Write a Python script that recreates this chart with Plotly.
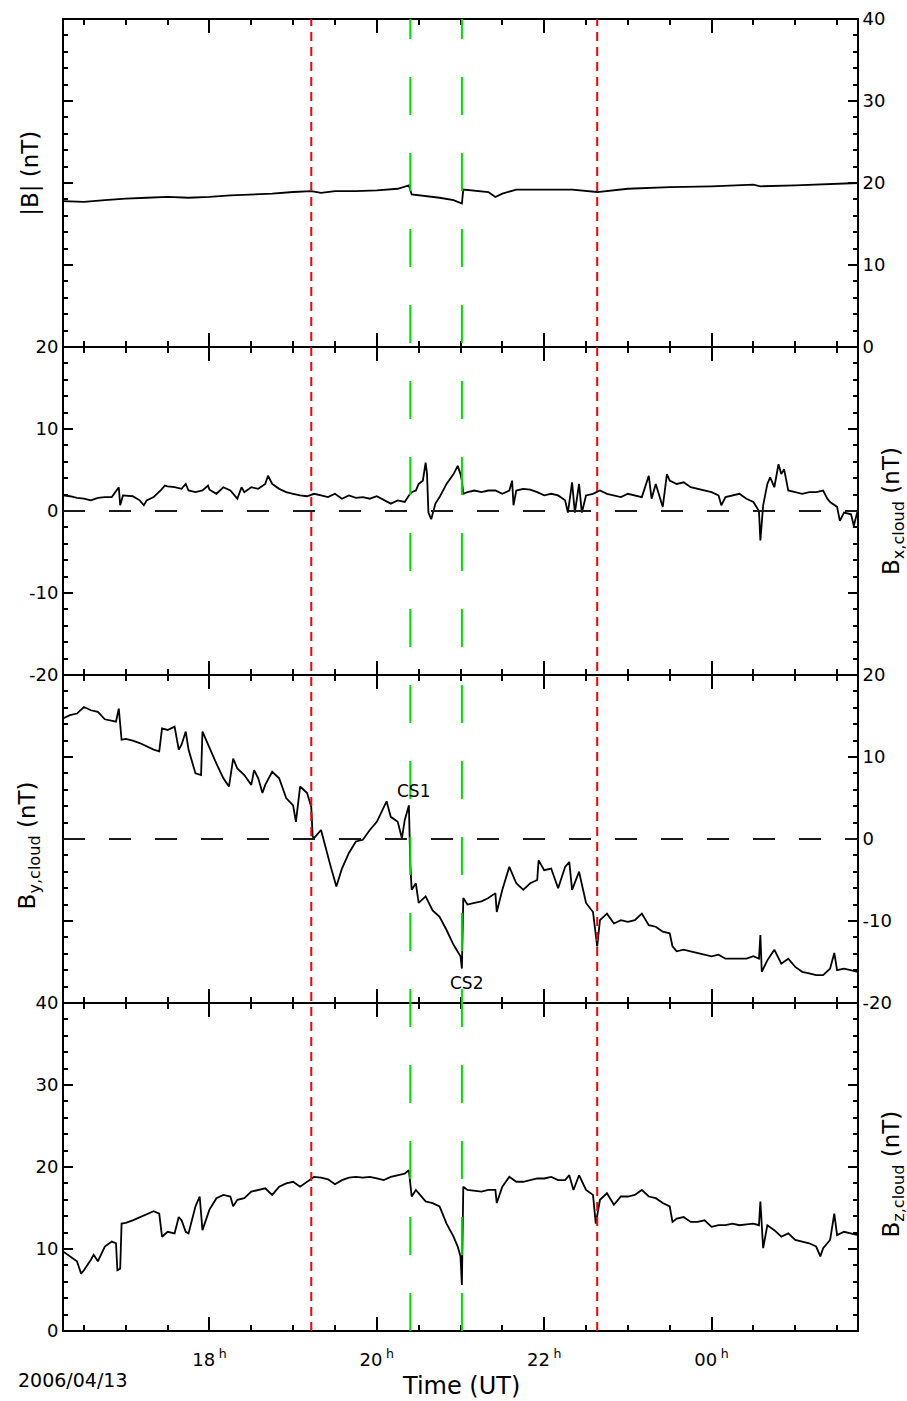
import plotly.graph_objects as go

# ---------------- data ----------------
bt_t = ["16:15","16:30","16:45","17:00","17:15","17:30","17:45","18:00","18:15","18:30","18:45","19:00","19:13","19:20","19:30","19:45","20:00","20:15","20:23","20:25","20:35","20:45","20:55","21:01","21:02","21:10","21:20","21:25","21:30","21:40","22:00","22:20","22:38","22:45","23:00","23:30","00:00","00:30","00:35","01:00","01:30","01:45"]
bt_v = [17.8,17.7,17.9,18.1,18.2,18.3,18.2,18.3,18.5,18.6,18.7,18.9,19.0,18.8,19.0,19.0,19.1,19.3,19.7,18.6,18.4,18.2,17.9,17.5,19.2,19.1,18.9,18.3,18.7,19.2,19.2,19.2,18.9,19.0,19.3,19.5,19.6,19.8,19.6,19.7,19.9,20.0]

bx_t = ["16:15","16:20","16:25","16:30","16:35","16:40","16:45","16:50","16:55","16:56","16:58","17:05","17:10","17:13","17:15","17:20","17:25","17:28","17:30","17:35","17:40","17:43","17:45","17:50","17:55","17:59","18:00","18:05","18:10","18:15","18:20","18:23","18:25","18:30","18:35","18:40","18:42","18:45","18:50","18:55","19:00","19:05","19:10","19:15","19:20","19:25","19:30","19:35","19:40","19:45","19:50","19:55","20:00","20:05","20:10","20:15","20:20","20:23","20:25","20:28","20:30","20:33","20:35","20:36","20:37","20:39","20:42","20:45","20:50","20:55","20:58","21:00","21:01","21:02","21:05","21:10","21:15","21:20","21:25","21:30","21:35","21:37","21:38","21:40","21:45","21:50","21:55","22:00","22:05","22:10","22:15","22:17","22:20","22:22","22:25","22:27","22:30","22:35","22:40","22:45","22:50","22:55","23:00","23:05","23:10","23:15","23:17","23:20","23:25","23:28","23:30","23:35","23:40","23:45","23:50","23:55","00:00","00:05","00:07","00:10","00:15","00:20","00:25","00:30","00:34","00:35","00:37","00:40","00:42","00:45","00:48","00:50","00:52","00:55","01:00","01:05","01:10","01:15","01:20","01:23","01:25","01:30","01:32","01:35","01:40","01:42","01:45"]
bx_v = [1.9,1.8,1.6,1.5,1.3,1.6,1.7,1.7,2.9,0.7,1.9,1.8,1.3,0.7,1.3,1.7,2.5,3.1,3.0,2.9,2.7,3.3,2.5,2.3,2.5,3.1,2.6,2.1,2.9,2.5,1.5,2.9,2.3,2.9,2.7,3.3,4.3,3.3,2.7,2.3,2.1,1.9,1.8,2.1,1.9,1.7,2.1,1.5,1.9,1.6,1.7,1.5,1.8,1.3,0.9,1.3,1.1,1.9,2.3,2.5,3.3,3.7,5.9,4.5,-0.2,-1.0,0.9,1.7,3.3,4.5,5.5,4.5,3.7,2.1,2.3,2.5,2.3,2.5,2.5,2.1,2.5,3.7,0.7,2.5,2.7,2.6,2.3,1.9,2.1,1.9,1.3,-0.2,3.5,-0.2,3.3,-0.2,1.9,2.1,2.5,2.1,1.9,1.7,2.1,1.9,1.7,4.3,1.5,3.3,0.5,4.5,3.7,3.3,3.5,2.9,2.7,2.5,2.3,1.9,0.7,1.7,1.9,2.1,1.5,1.1,0.0,-3.6,0.7,3.3,4.1,2.9,5.7,4.5,5.1,2.5,2.3,2.1,2.3,2.3,2.5,1.5,1.1,0.5,-1.2,-0.2,-0.4,-1.8,0.2]

by_t = ["16:15","16:20","16:25","16:30","16:35","16:40","16:45","16:50","16:53","16:55","16:57","17:00","17:05","17:10","17:15","17:20","17:24","17:26","17:30","17:35","17:38","17:40","17:43","17:45","17:50","17:54","17:55","18:00","18:05","18:10","18:14","18:17","18:20","18:25","18:30","18:32","18:35","18:38","18:40","18:45","18:50","18:55","19:00","19:02","19:05","19:10","19:13","19:14","19:15","19:20","19:23","19:27","19:31","19:35","19:40","19:45","19:50","19:55","20:00","20:07","20:10","20:15","20:18","20:20","20:23","20:24","20:25","20:28","20:30","20:35","20:40","20:45","20:50","20:55","21:00","21:01","21:02","21:05","21:10","21:15","21:20","21:25","21:26","21:30","21:35","21:40","21:45","21:50","21:55","21:56","22:00","22:05","22:10","22:15","22:18","22:20","22:25","22:30","22:35","22:38","22:40","22:45","22:50","22:55","23:00","23:05","23:10","23:15","23:20","23:25","23:30","23:32","23:35","23:40","23:45","23:50","23:55","00:00","00:05","00:10","00:15","00:20","00:25","00:30","00:34","00:35","00:36","00:40","00:45","00:50","00:55","01:00","01:05","01:10","01:15","01:20","01:25","01:28","01:30","01:35","01:40","01:45"]
by_v = [14.7,15.1,15.3,16.1,15.7,15.5,14.6,14.4,14.3,15.9,12.1,12.2,12.0,11.7,11.3,10.9,10.7,13.5,13.3,13.7,10.9,11.5,13.1,10.9,8.0,7.8,13.1,11.1,9.2,7.4,6.4,9.8,8.6,7.8,6.6,8.4,7.4,5.6,6.6,8.2,7.4,5.0,4.1,2.1,6.4,5.6,3.9,0.3,0.1,1.1,-0.9,-3.4,-5.8,-3.6,-1.7,-0.3,-0.1,1.1,2.1,4.6,2.7,2.1,0.1,2.3,4.1,-3.0,-6.2,-5.4,-7.8,-7.0,-8.7,-9.5,-11.1,-12.9,-14.3,-15.8,-7.2,-8.0,-7.8,-7.6,-7.2,-6.6,-8.9,-6.2,-3.4,-5.4,-6.2,-5.4,-5.0,-2.6,-3.8,-3.6,-6.0,-3.4,-2.8,-6.2,-4.0,-7.8,-8.9,-13.1,-9.9,-9.1,-10.3,-9.9,-10.1,-9.9,-9.1,-10.5,-10.7,-11.3,-11.5,-13.1,-13.7,-13.5,-13.7,-13.9,-14.1,-14.3,-14.1,-14.6,-14.6,-14.6,-14.6,-14.3,-14.6,-11.7,-16.2,-14.8,-13.5,-15.2,-14.6,-15.6,-16.2,-16.4,-16.6,-16.6,-15.8,-13.9,-16.0,-15.8,-16.0,-16.2]

bz_t = ["16:15","16:20","16:25","16:28","16:30","16:35","16:37","16:40","16:45","16:50","16:53","16:54","16:56","16:57","17:00","17:05","17:10","17:15","17:20","17:24","17:26","17:30","17:35","17:38","17:40","17:43","17:45","17:50","17:53","17:55","18:00","18:05","18:10","18:15","18:17","18:20","18:25","18:30","18:35","18:40","18:45","18:50","18:55","19:00","19:05","19:10","19:15","19:20","19:25","19:30","19:35","19:40","19:45","19:50","19:55","20:00","20:05","20:10","20:15","20:20","20:23","20:24","20:25","20:28","20:30","20:35","20:40","20:45","20:50","20:55","20:58","21:00","21:01","21:02","21:05","21:10","21:15","21:20","21:25","21:26","21:30","21:35","21:40","21:45","21:50","21:55","22:00","22:05","22:10","22:15","22:18","22:21","22:25","22:30","22:35","22:37","22:40","22:45","22:50","22:55","23:00","23:05","23:10","23:15","23:20","23:25","23:30","23:32","23:35","23:40","23:45","23:50","23:55","00:00","00:05","00:10","00:15","00:20","00:25","00:30","00:34","00:35","00:37","00:40","00:45","00:50","00:55","01:00","01:05","01:10","01:15","01:18","01:20","01:25","01:28","01:30","01:35","01:40","01:45"]
bz_v = [9.7,9.1,8.5,7.0,7.4,8.7,9.3,8.5,10.3,10.9,10.7,7.4,7.6,13.1,13.2,13.5,13.9,14.3,14.6,14.3,11.5,12.1,11.9,13.9,13.5,12.1,11.9,15.2,16.4,12.3,14.8,16.2,16.6,16.4,15.2,16.0,16.2,17.0,17.2,17.4,16.6,17.6,18.0,18.2,17.6,18.2,18.8,18.7,18.5,17.9,18.4,18.7,18.8,18.7,18.8,18.6,18.4,18.8,19.0,19.2,19.6,17.6,16.4,17.2,16.8,15.8,15.6,15.2,13.1,11.5,10.3,9.1,5.6,17.6,17.2,17.1,17.0,17.2,17.2,15.6,17.6,18.8,18.2,18.2,18.4,18.6,18.6,18.8,18.4,18.4,19.0,17.2,19.0,17.2,16.6,13.1,16.0,16.8,15.4,16.4,16.4,16.6,17.2,16.4,16.2,15.6,15.2,13.3,13.7,13.9,13.3,13.3,13.5,12.7,12.9,12.9,13.1,12.9,13.0,13.1,12.9,15.8,10.1,12.9,12.3,11.5,11.9,11.1,10.9,10.7,10.3,9.1,10.1,11.1,14.3,11.7,12.1,11.9,11.7]

x_range = ["16:15", "01:45"]
tick_times = ["18:00", "20:00", "22:00", "00:00"]
tick_text = ["18\u2009<sup>h</sup>", "20\u2009<sup>h</sup>", "22\u2009<sup>h</sup>", "00\u2009<sup>h</sup>"]
y_tickvals_b = [0, 10, 20, 30, 40]
y_ticktext_b = ["0", "10", "20", "30", "40"]
y_tickvals_c = [-20, -10, 0, 10, 20]
y_ticktext_c = ["-20", "-10", "0", "10", "20"]
red_times = ["19:13", "22:38"]
green_times = ["20:24", "21:01"]
y_titles = ["|B| (nT)", "B<sub>x,cloud</sub> (nT)", "B<sub>y,cloud</sub> (nT)", "B<sub>z,cloud</sub> (nT)"]
y_ranges = [[0, 40], [-20, 20], [-20, 20], [0, 40]]
cs_labels = [("CS1", "20:26", 5.9), ("CS2", "21:04", -17.6)]
date_label = "2006/04/13"
x_title = "Time (UT)"

for t, v in [(bt_t, bt_v), (bx_t, bx_v), (by_t, by_v), (bz_t, bz_v)]:
    assert len(t) == len(v)


def to_h(s):
    hh, mm = s.split(":")
    h = int(hh) + int(mm) / 60.0
    return h + 24 if h < 12 else h


FONT = "DejaVu Sans"
fig = go.Figure()
series = [(bt_t, bt_v), (bx_t, bx_v), (by_t, by_v), (bz_t, bz_v)]
for i, (t, v) in enumerate(series, start=1):
    sfx = "" if i == 1 else str(i)
    fig.add_trace(go.Scatter(
        x=[to_h(s) for s in t], y=v, mode="lines",
        line=dict(color="black", width=1.8),
        xaxis="x" + sfx, yaxis="y" + sfx, showlegend=False, hoverinfo="skip"))

domains = [[0.75, 1.0], [0.5, 0.75], [0.25, 0.5], [0.0, 0.25]]
sides = ["right", "left", "right", "left"]
layout = dict(
    width=907, height=1401, autosize=False,
    margin=dict(l=63, r=49, t=19, b=70, pad=0, autoexpand=False),
    paper_bgcolor="white", plot_bgcolor="white",
    font=dict(family=FONT, size=18, color="black"),
    showlegend=False,
)
for i in range(1, 5):
    sfx = "" if i == 1 else str(i)
    layout["xaxis" + sfx] = dict(
        domain=[0, 1], anchor="y" + sfx, automargin=False,
        range=[to_h(x_range[0]), to_h(x_range[1])],
        tickmode="array", tickvals=[to_h(s) for s in tick_times], ticktext=tick_text,
        ticks="inside", ticklen=14, tickwidth=1.5, tickcolor="black",
        minor=dict(tickmode="linear", tick0=16.0, dtick=0.5, ticks="inside",
                   ticklen=6, tickwidth=1.5, tickcolor="black"),
        showline=True, linewidth=1, linecolor="black", mirror="ticks",
        showgrid=False, zeroline=False,
        showticklabels=(i == 4), ticklabelstandoff=12,
        tickfont=dict(family=FONT, size=18),
    )
    if i > 1:
        layout["xaxis" + sfx]["matches"] = "x"
    is_b = (i in (1, 4))
    layout["yaxis" + sfx] = dict(
        domain=domains[i - 1], anchor="x" + sfx, side=sides[i - 1], automargin=False,
        range=y_ranges[i - 1], tickmode="array",
        tickvals=y_tickvals_b if is_b else y_tickvals_c,
        ticktext=y_ticktext_b if is_b else y_ticktext_c,
        ticks="inside", ticklen=10, tickwidth=1.5, tickcolor="black",
        minor=dict(tickmode="linear", tick0=0, dtick=2, ticks="inside",
                   ticklen=5, tickwidth=1.5, tickcolor="black"),
        showline=True, linewidth=1, linecolor="black", mirror="ticks",
        showgrid=False, zeroline=False,
        tickfont=dict(family=FONT, size=18),
    )
fig.update_layout(**layout)

shapes = []
# outer frame of the stacked panels
shapes.append(dict(type="rect", xref="paper", yref="paper", x0=0, x1=1, y0=0, y1=1,
                   line=dict(color="black", width=2), fillcolor="rgba(0,0,0,0)"))
for sfx in ["2", "3"]:
    shapes.append(dict(type="line", xref="x" + sfx + " domain", yref="y" + sfx,
                       x0=0, x1=1, y0=0, y1=0,
                       line=dict(color="#1a1a1a", width=2, dash="22px,24px")))
for t in red_times:
    shapes.append(dict(type="line", xref="x", yref="paper", x0=to_h(t), x1=to_h(t),
                       y0=0, y1=1, line=dict(color="#ff0000", width=2, dash="9px,6px")))
for t in green_times:
    shapes.append(dict(type="line", xref="x", yref="paper", x0=to_h(t), x1=to_h(t),
                       y0=0, y1=1, line=dict(color="#00dd00", width=2, dash="38px,38px")))
fig.update_layout(shapes=shapes)

ann = []
title_pos = [(-0.0415, 0.882), (1.044, 0.625), (-0.043, 0.370), (1.044, 0.120)]
for txt, (px, py) in zip(y_titles, title_pos):
    ann.append(dict(text=txt, xref="paper", yref="paper", x=px, y=py, showarrow=False,
                    textangle=-90, xanchor="center", yanchor="middle",
                    font=dict(family=FONT, size=23, color="black")))
for txt, t, val in cs_labels:
    ann.append(dict(text=txt, xref="x3", yref="y3", x=to_h(t), y=val, showarrow=False,
                    xanchor="center", yanchor="middle",
                    font=dict(family=FONT, size=17, color="black")))
ann.append(dict(text=x_title, xref="paper", yref="paper", x=0.5006, y=-0.0420,
                showarrow=False, xanchor="center", yanchor="middle",
                font=dict(family=FONT, size=24, color="black")))
ann.append(dict(text=date_label, xref="paper", yref="paper", x=0.0126, y=-0.0373,
                showarrow=False, xanchor="center", yanchor="middle",
                font=dict(family=FONT, size=19, color="black")))
fig.update_layout(annotations=ann)

fig.write_html("out.html", config={"displayModeBar": False})

# remove the browser's default page margin so the figure sits at (0, 0)
with open("out.html", "r", encoding="utf-8") as f:
    html = f.read()
html = html.replace("<body>", '<body style="margin:0;padding:0;overflow:hidden;">', 1)
with open("out.html", "w", encoding="utf-8") as f:
    f.write(html)
